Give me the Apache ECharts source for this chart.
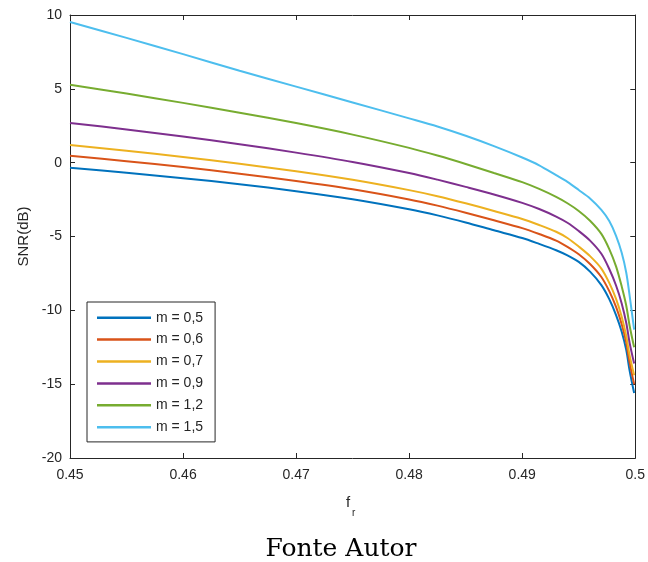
<!DOCTYPE html>
<html>
<head>
<meta charset="utf-8">
<script src="https://cdn.jsdelivr.net/npm/echarts@6/dist/echarts.min.js"></script>
<style>
html,body{margin:0;padding:0;background:#fff;}
#c{width:648px;height:562px;}
</style>
</head>
<body>
<div id="c"></div>
<script>
const fr = [0.45, 0.455, 0.46, 0.465, 0.47, 0.475, 0.48, 0.4825, 0.485, 0.4875, 0.49, 0.4915, 0.493, 0.494, 0.495, 0.496, 0.497, 0.4977, 0.4983, 0.4988, 0.4992, 0.4995, 0.4999];
const m05 = [-0.34, -0.68, -1.05, -1.46, -1.93, -2.48, -3.16, -3.57, -4.05, -4.58, -5.1, -5.5, -5.93, -6.28, -6.72, -7.38, -8.29, -9.24, -10.32, -11.45, -12.68, -14.08, -15.6];
const m06 = [0.47, 0.1, -0.3, -0.75, -1.24, -1.8, -2.49, -2.91, -3.39, -3.9, -4.43, -4.83, -5.28, -5.7, -6.2, -6.86, -7.74, -8.7, -9.77, -10.94, -12.17, -13.54, -15.0];
const m07 = [1.2, 0.81, 0.39, -0.08, -0.58, -1.16, -1.86, -2.27, -2.75, -3.27, -3.81, -4.22, -4.68, -5.1, -5.68, -6.33, -7.17, -8.14, -9.22, -10.43, -11.74, -13.06, -14.4];
const m09 = [2.69, 2.25, 1.77, 1.25, 0.68, 0.05, -0.7, -1.15, -1.64, -2.15, -2.72, -3.14, -3.65, -4.07, -4.63, -5.28, -6.17, -7.2, -8.32, -9.53, -10.84, -12.2, -13.6];
const m12 = [5.27, 4.68, 4.05, 3.38, 2.68, 1.9, 1.0, 0.48, -0.09, -0.7, -1.32, -1.78, -2.32, -2.75, -3.27, -3.93, -4.82, -5.85, -7.02, -8.38, -9.67, -11.04, -12.5];
const m15 = [9.52, 8.45, 7.35, 6.22, 5.15, 4.08, 3.0, 2.45, 1.82, 1.12, 0.35, -0.18, -0.85, -1.3, -1.85, -2.42, -3.2, -3.95, -4.95, -6.1, -7.44, -9.0, -11.3];
const seriesNames = ['m = 0,5', 'm = 0,6', 'm = 0,7', 'm = 0,9', 'm = 1,2', 'm = 1,5'];
const seriesValues = [m05, m06, m07, m09, m12, m15];
const colors = ['#0072BD', '#D95319', '#EDB120', '#7E2F8E', '#77AC30', '#4DBEEE'];
const xTicks = [0.45, 0.46, 0.47, 0.48, 0.49, 0.5];
const yTicks = [-20, -15, -10, -5, 0, 5, 10];

const font = 'Liberation Sans, Arial, sans-serif';
const txt = '#262626';
const chart = echarts.init(document.getElementById('c'));

const axisCommon = {
  axisLine: {show: true, onZero: false, lineStyle: {color: txt, width: 1}},
  axisTick: {show: true, inside: true, length: 5, lineStyle: {color: txt}},
  splitLine: {show: false}
};

chart.setOption({
  animation: false,
  color: colors,
  grid: {left: 70, right: 12, top: 15, bottom: 104, containLabel: false},
  legend: {
    orient: 'vertical', left: 87, top: 302,
    data: seriesNames,
    icon: 'rect',
    backgroundColor: '#fff', borderColor: txt, borderWidth: 1,
    padding: [8, 12, 7, 10],
    itemWidth: 54, itemHeight: 2.5, itemGap: 6.5,
    textStyle: {fontFamily: font, fontSize: 14, color: txt, lineHeight: 15.4}
  },
  xAxis: [
    Object.assign({
      type: 'value', min: xTicks[0], max: xTicks[xTicks.length - 1], interval: 0.01,
      position: 'bottom',
      axisLabel: {fontFamily: font, fontSize: 14, color: txt, margin: 10,
        formatter: v => String(+v.toFixed(2))}
    }, axisCommon),
    Object.assign({
      type: 'value', min: xTicks[0], max: xTicks[xTicks.length - 1], interval: 0.01,
      position: 'top', axisLabel: {show: false}
    }, axisCommon)
  ],
  yAxis: [
    Object.assign({
      type: 'value', min: yTicks[0], max: yTicks[yTicks.length - 1], interval: 5,
      position: 'left',
      axisLabel: {fontFamily: font, fontSize: 14, color: txt, margin: 8},
      name: 'SNR(dB)', nameLocation: 'middle', nameGap: 38, nameRotate: 90,
      nameTextStyle: {fontFamily: font, fontSize: 15, color: txt}
    }, axisCommon),
    Object.assign({
      type: 'value', min: yTicks[0], max: yTicks[yTicks.length - 1], interval: 5,
      position: 'right', axisLabel: {show: false}
    }, axisCommon)
  ],
  series: seriesNames.map((n, i) => ({
    name: n, type: 'line', xAxisIndex: 0, yAxisIndex: 0,
    symbol: 'none', smooth: 0.3,
    lineStyle: {width: 2, color: colors[i]},
    data: fr.map((x, j) => [x, seriesValues[i][j]])
  })),
  graphic: [
    {type: 'text', left: 346, top: 495, style: {text: 'f', font: '15px ' + font, fill: txt}},
    {type: 'text', left: 352, top: 508, style: {text: 'r', font: '10px ' + font, fill: txt}},
    {type: 'text', x: 341, y: 549, style: {text: 'Fonte Autor', font: '25px "DejaVu Serif", serif', fill: '#000', textAlign: 'center', textVerticalAlign: 'middle'}}
  ]
});
</script>
</body>
</html>
